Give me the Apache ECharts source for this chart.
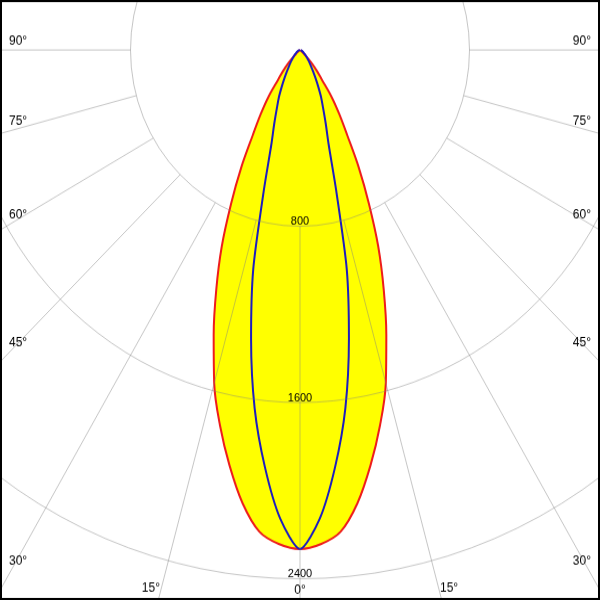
<!DOCTYPE html>
<html><head><meta charset="utf-8">
<script src="https://cdn.jsdelivr.net/npm/echarts@6/dist/echarts.min.js"></script>
<style>
html,body{margin:0;padding:0;background:#fff;overflow:hidden}
#wrap{width:600px;height:600px;overflow:hidden}
#chart{width:600px;height:577px;transform:scaleY(1.0399);transform-origin:0 0}
</style>
</head><body><div id="wrap"><div id="chart"></div></div>
<script>
// Gamma angles (degrees) and luminous intensity (cd)
const gammaAngles = [0, 2.5, 5, 7.5, 10, 12.5, 15, 17.5, 20, 22.5, 25, 27.5, 30, 32.5, 35, 37.5, 40, 42.5, 45, 47.5, 50, 55, 60, 70, 80, 90];
const planeC0C180 = [2265, 2245, 2195, 2075, 1915, 1745, 1565, 1355, 1155, 965, 770, 600, 445, 345, 260, 170, 125, 85, 45, 25, 15, 8, 5, 2, 1, 0];
const planeC90C270 = [2265, 2130, 1900, 1640, 1330, 1020, 660, 450, 355, 285, 235, 185, 145, 115, 92, 75, 62, 52, 43, 36, 30, 22, 16, 8, 3, 0];
const radiusTicks = [800, 1600, 2400, 3200];
const angleLabels = ['0°', '15°', '30°', '45°', '60°', '75°', '90°'];

const S = 600 / 577; // vertical stretch of the page
const CX = 300, CY = 50 / S;

// full symmetric curve: left half (gamma) then right half (360 - gamma)
function fullCurve(vals) {
  const pts = [];
  for (let i = gammaAngles.length - 1; i >= 0; i--) pts.push([vals[i], gammaAngles[i]]);
  for (let i = 1; i < gammaAngles.length; i++) pts.push([vals[i], 360 - gammaAngles[i]]);
  return pts;
}

// split line colours: only the lower half (0..90 and 270..360) is drawn
const gridColor = 'rgba(128,128,128,0.45)';
const splitColors = [];
for (let a = 0; a <= 360; a += 15) splitColors.push((a <= 90 || a >= 270) ? gridColor : 'rgba(0,0,0,0)');

// angle label placement (screen px), left side; right side mirrored
const labelPlace = [
  {x: 300, y: 590, align: 'center'},
  {x: 160, y: 588.5, align: 'right'},
  {x: 9, y: 561, align: 'left'},
  {x: 9, y: 342.5, align: 'left'},
  {x: 9, y: 215, align: 'left'},
  {x: 9, y: 121.5, align: 'left'},
  {x: 9, y: 41.5, align: 'left'}
];
const fontFam = '"Liberation Sans", Arial, sans-serif';
const graphics = [{
  type: 'rect', z: 20,
  shape: {x: 1, y: 1, width: 598, height: 575},
  style: {fill: 'none', stroke: '#000', lineWidth: 2}
}];
angleLabels.forEach(function (t, i) {
  const p = labelPlace[i];
  graphics.push({type: 'text', z: 20, x: p.x, y: p.y / S,
    style: {text: t, fill: '#000', font: '12px ' + fontFam, align: p.align, verticalAlign: 'middle'}});
  if (i > 0) {
    const mirrorAlign = p.align === 'left' ? 'right' : 'left';
    graphics.push({type: 'text', z: 20, x: 600 - p.x, y: p.y / S,
      style: {text: t, fill: '#000', font: '12px ' + fontFam, align: mirrorAlign, verticalAlign: 'middle'}});
  }
});

const hidden = {axisLine: {show: false}, axisTick: {show: false}, axisLabel: {show: false}, splitLine: {show: false}};

const chart = echarts.init(document.getElementById('chart'), null, {renderer: 'canvas'});
chart.setOption({
  animation: false,
  backgroundColor: '#fff',
  polar: [
    {center: [CX, CY], radius: [0, 678]},        // data polar (no inner hole)
    {center: [CX, CY], radius: [169.5, 678]}     // grid polar starting at 800 cd
  ],
  angleAxis: [
    Object.assign({polarIndex: 0, type: 'value', min: 0, max: 360, interval: 15, startAngle: 270, clockwise: true}, hidden),
    {
      polarIndex: 1, type: 'value', min: 0, max: 360, interval: 15, startAngle: 270, clockwise: true,
      z: 5,
      axisLine: {show: false}, axisTick: {show: false}, axisLabel: {show: false},
      splitLine: {show: true, lineStyle: {color: splitColors, width: 1}}
    }
  ],
  radiusAxis: [
    Object.assign({polarIndex: 0, type: 'value', min: 0, max: radiusTicks[radiusTicks.length - 1], interval: 800}, hidden),
    {
      polarIndex: 1, type: 'value', min: radiusTicks[0], max: radiusTicks[radiusTicks.length - 1], interval: 800,
      z: 5,
      axisLine: {show: false}, axisTick: {show: false},
      axisLabel: {
        show: true, margin: 0, showMaxLabel: false, color: '#000', fontSize: 11,
        fontFamily: fontFam,
        align: 'center', verticalAlign: 'bottom', lineHeight: 9,
        formatter: function (v) { return String(v); }
      },
      splitLine: {show: true, lineStyle: {color: gridColor, width: 1}}
    }
  ],
  graphic: graphics,
  series: [
    {
      name: 'C0-C180', type: 'line', coordinateSystem: 'polar', polarIndex: 0, data: fullCurve(planeC0C180),
      smooth: 0.35, showSymbol: false, z: 1,
      lineStyle: {color: '#ee1c1c', width: 2},
      areaStyle: {color: '#ffff00', opacity: 1, origin: 0}
    },
    {
      name: 'C90-C270', type: 'line', coordinateSystem: 'polar', polarIndex: 0, data: fullCurve(planeC90C270),
      smooth: 0.25, showSymbol: false, z: 2,
      lineStyle: {color: '#1c1cc0', width: 2}
    }
  ]
});
</script>
</body></html>
